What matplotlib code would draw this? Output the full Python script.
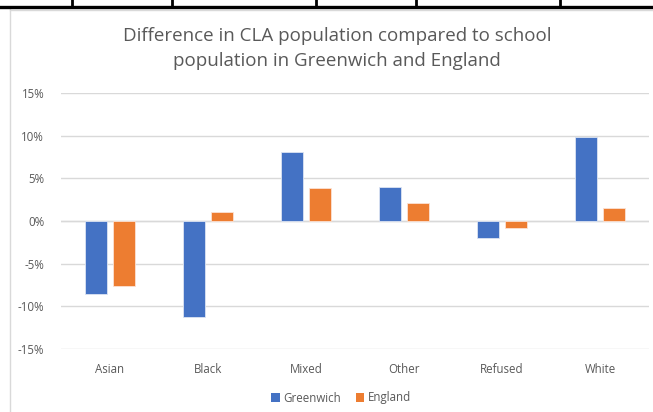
import matplotlib
matplotlib.use("Agg")
from matplotlib import pyplot as plt
from matplotlib.patches import Patch
from matplotlib.lines import Line2D
import numpy as np

# data (percentage points)
categories = ['Asian', 'Black', 'Mixed', 'Other', 'Refused', 'White']
greenwich = [-8.5, -11.25, 8.1, 4.0, -2.0, 9.8]
england = [-7.6, 1.1, 3.85, 2.1, -0.8, 1.5]
yticks = [-15, -10, -5, 0, 5, 10, 15]

blue = '#4472C4'
orange = '#ED7D31'
grey_text = '#595959'
grid_col = '#D9D9D9'

plt.rcParams['font.family'] = ['Open Sans', 'DejaVu Sans']

W, H = 653, 412
fig = plt.figure(figsize=(W / 100, H / 100), dpi=100)
ax = fig.add_axes([61 / W, 63 / H, (649 - 61) / W, (349 - 93) / H])

x = np.arange(len(categories))
bw = 0.225
off = 0.143
ax.bar(x - off, greenwich, bw, color=blue, edgecolor='#DCE4F2', linewidth=0.6, zorder=3)
ax.bar(x + off, england, bw, color=orange, edgecolor='#FBE2D4', linewidth=0.6, zorder=3)

ax.set_xlim(-0.5, len(categories) - 0.5)
ax.set_ylim(-15, 15)
ax.set_yticks(yticks)
ax.set_yticklabels([f'{v}%' for v in yticks])
ax.set_xticks(x)
ax.set_xticklabels(categories)
ax.yaxis.grid(True, color=grid_col, linewidth=1, zorder=0)
ax.axhline(0, color=grid_col, linewidth=1, zorder=1)
for s in ax.spines.values():
    s.set_visible(False)
ax.tick_params(axis='both', length=0, colors=grey_text, labelsize=8.3)
ax.tick_params(axis='x', pad=10)
ax.tick_params(axis='y', pad=12)

fig.text(337 / W, 1 - 48.5 / H,
         'Difference in CLA population compared to school\npopulation in Greenwich and England',
         ha='center', va='center', fontsize=13.5, color=grey_text, linespacing=1.5)

handles = [Patch(facecolor=blue, label='Greenwich'), Patch(facecolor=orange, label='England')]
fig.legend(handles=handles, loc='center', bbox_to_anchor=(341 / W, 1 - 398 / H), ncol=2,
           frameon=False, fontsize=8.3, labelcolor=grey_text, handlelength=0.75,
           handleheight=0.75, handletextpad=0.3, columnspacing=1.3)

# chart border (light) and the table lines above it
fig.add_artist(Line2D([10 / W, 10 / W], [0, 1 - 9 / H], color='#D9D9D9', linewidth=1))
fig.add_artist(Line2D([10 / W, 1], [1 - 9.5 / H, 1 - 9.5 / H], color='#D9D9D9', linewidth=1))
fig.add_artist(Line2D([0, 1], [1 - 6.5 / H, 1 - 6.5 / H], color='black', linewidth=2.4))
for vx in [72, 172, 316, 416, 560]:
    fig.add_artist(Line2D([vx / W, vx / W], [1 - 6 / H, 1], color='black', linewidth=2))

fig.savefig('out.png', dpi=100)
